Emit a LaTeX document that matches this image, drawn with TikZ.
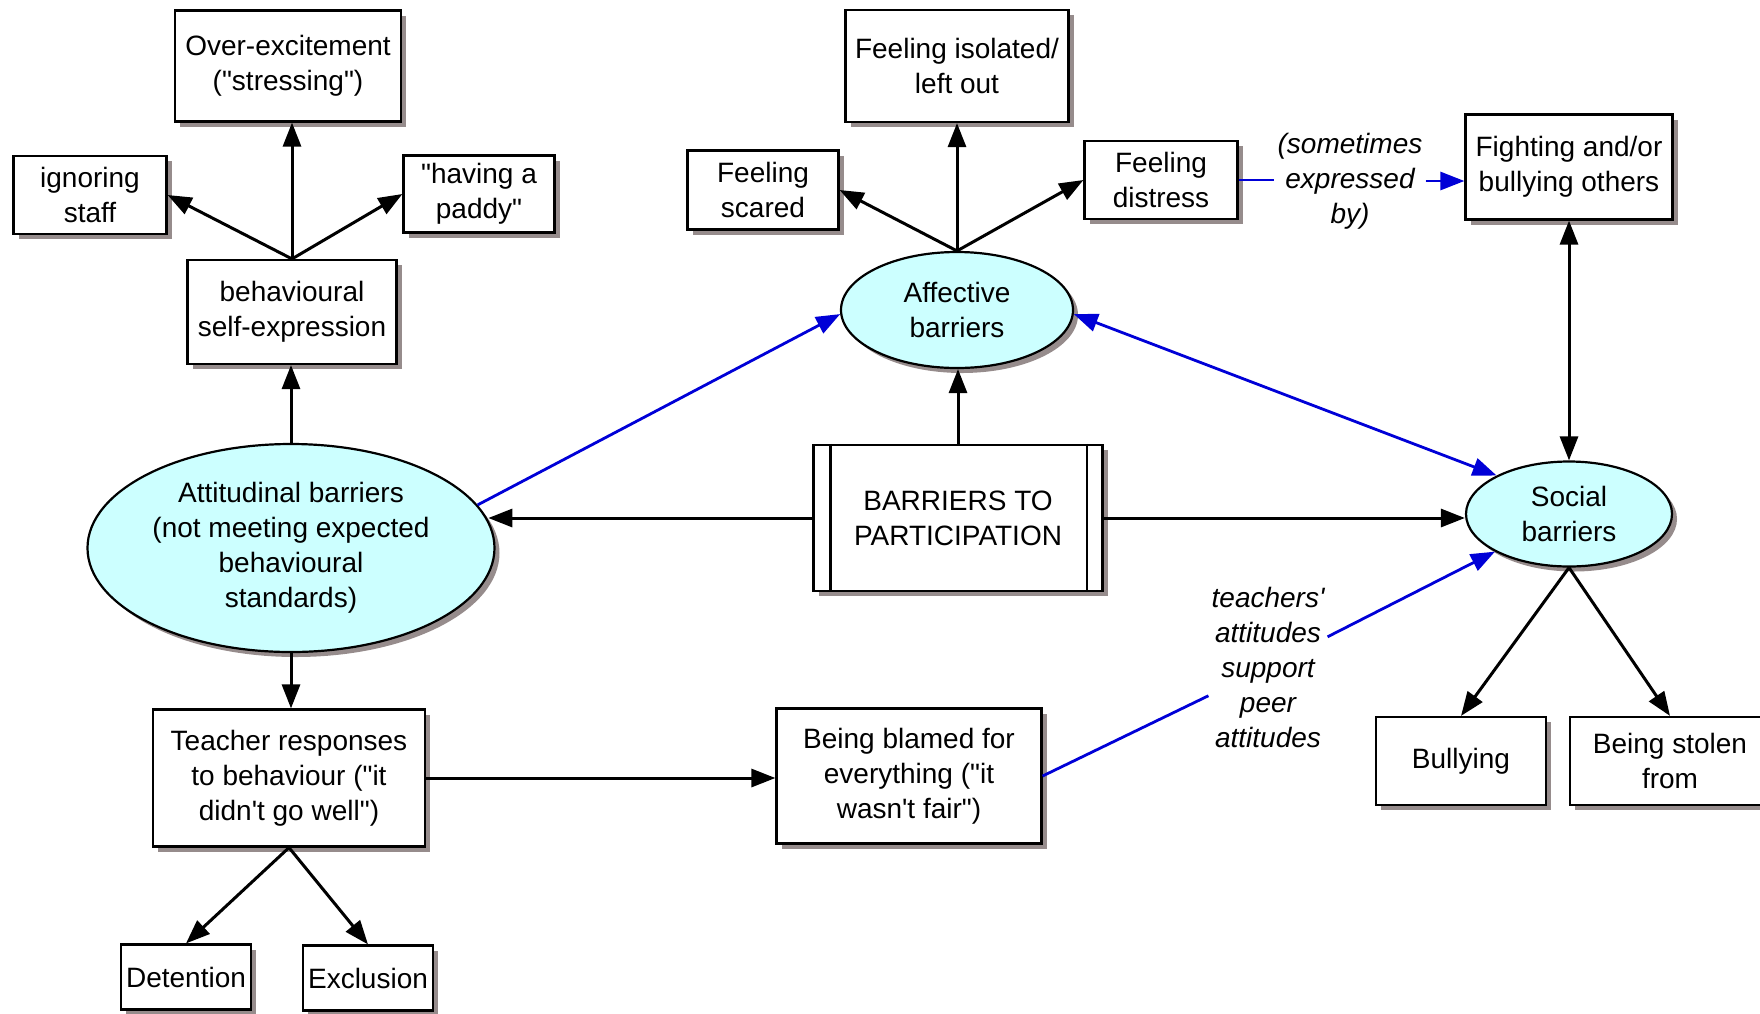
\documentclass[tikz,border=0pt]{standalone}
\usepackage{fontspec}
\newfontfamily\arialf{Liberation Sans}
\usetikzlibrary{arrows.meta,shapes.geometric,shadows}
\definecolor{cyanfill}{RGB}{204,255,255}
\definecolor{shadowc}{RGB}{150,140,140}
\definecolor{linkblue}{RGB}{0,0,215}
\begin{document}
\begin{tikzpicture}[x=1pt,y=-1pt,
  every node/.style={font=\arialf\fontsize{28}{35}\selectfont, align=center},
  shad/.style={drop shadow={shadow xshift=5pt,shadow yshift=-5pt,fill=shadowc,opacity=1}},
  box/.style={draw, line width=2.2pt, fill=white, inner sep=0pt, shad},
  oval/.style={ellipse, draw, line width=2.2pt, fill=cyanfill, inner sep=0pt, shad},
  lab/.style={font=\arialf\itshape\fontsize{28}{35}\selectfont, inner sep=3pt},
  tip/.tip={Triangle[length=24pt,width=18pt]},
  conn/.style={line width=3pt, -tip},
  dconn/.style={line width=3pt, tip-tip},
  bline/.style={line width=2.8pt, draw=linkblue},
  bconn/.style={bline, -tip, fill=linkblue},
  bdconn/.style={bline, tip-tip, fill=linkblue}
]
\useasboundingbox (0,0) rectangle (1760,1013);

% left branch
\node[box, minimum width=226pt, minimum height=111pt] (over) at (288,66) {Over-excitement\\("stressing")};
\node[box, minimum width=153pt, minimum height=78pt] (ign) at (90,195) {ignoring\\staff};
\node[box, minimum width=151pt, minimum height=77pt] (paddy) at (479,194) {"having a\\paddy"};
\node[box, minimum width=209pt, minimum height=104pt] (beh) at (292,312) {behavioural\\self-expression};
\node[oval, minimum width=407pt, minimum height=208pt] (att) at (291,548) {Attitudinal barriers\\(not meeting expected\\behavioural\\standards)};
\node[box, minimum width=272pt, minimum height=137pt] (teacher) at (289,778) {Teacher responses\\to behaviour ("it\\didn't go well")};
\node[box, minimum width=130pt, minimum height=65pt] (det) at (186,977) {Detention};
\node[box, minimum width=130pt, minimum height=65pt] (excl) at (368,978) {Exclusion};

% centre
\node[box, minimum width=151pt, minimum height=79pt] (scared) at (763,190) {Feeling\\scared};
\node[box, minimum width=223pt, minimum height=112pt] (isol) at (957,66) {Feeling isolated/\\left out};
\node[box, minimum width=153pt, minimum height=78pt] (distress) at (1161,180) {Feeling\\distress};
\node[oval, minimum width=232pt, minimum height=116pt] (aff) at (957,310) {Affective\\barriers};
\node[box, minimum width=289pt, minimum height=146pt] (bp) at (958,518) {BARRIERS TO\\PARTICIPATION};
\draw[line width=2.2pt] ([xshift=18pt]bp.north west) -- ([xshift=18pt]bp.south west)
                        ([xshift=-17pt]bp.north east) -- ([xshift=-17pt]bp.south east);
\node[box, minimum width=265pt, minimum height=135pt] (blamed) at (909,776) {Being blamed for\\everything ("it\\wasn't fair")};

% right
\node[lab] (sexp) at (1350,181) {(sometimes\\expressed\\by)};
\node[box, minimum width=207pt, minimum height=105pt] (fight) at (1569,167) {Fighting and/or\\bullying others};
\node[oval, minimum width=206pt, minimum height=105pt] (social) at (1569,514) {Social\\barriers};
\node[lab] (teach) at (1268,667) {teachers'\\attitudes\\support\\peer\\attitudes};
\node[box, minimum width=170pt, minimum height=88pt] (bully) at (1461,761) {Bullying};
\node[box, minimum width=200pt, minimum height=88pt] (stolen) at (1670,761) {Being stolen\\from};

% black connectors
\draw[conn] (beh.north) -- (beh.north |- over.south);
\draw[conn] (beh.north) -- (ign.east);
\draw[conn] (beh.north) -- (paddy.west);
\draw[conn] (att.north) -- (att.north |- beh.south);
\draw[conn] (att.south) -- (att.south |- teacher.north);
\draw[conn] (teacher.south) -- (det.north);
\draw[conn] (teacher.south) -- (excl.north);
\draw[conn] (teacher.east) -- (teacher.east -| blamed.west);
\draw[conn] (bp.west) -- (bp.west -| att.8.7);
\draw[conn] (bp.east) -- (bp.east -| social.west);
\draw[conn] (bp.north) -- (bp.north |- aff.south);
\draw[conn] (aff.north) -- (isol.south);
\draw[conn] (aff.north) -- (scared.east);
\draw[conn] (aff.north) -- (distress.west);
\draw[dconn] (fight.south) -- (social.north);
\draw[conn] (social.south) -- (bully.north);
\draw[conn] (social.south) -- (stolen.north);

% blue connectors
\draw[bconn] (att.13.5) -- (aff.182);
\draw[bdconn] (aff.358) -- (social.152);
\draw[bline] (distress.east) -- (distress.east -| sexp.west);
\draw[bconn] (sexp.east) -- (sexp.east -| fight.west);
\draw[bline] (blamed.east) -- (teach);
\draw[bconn] (teach) -- (social);
\end{tikzpicture}
\end{document}
